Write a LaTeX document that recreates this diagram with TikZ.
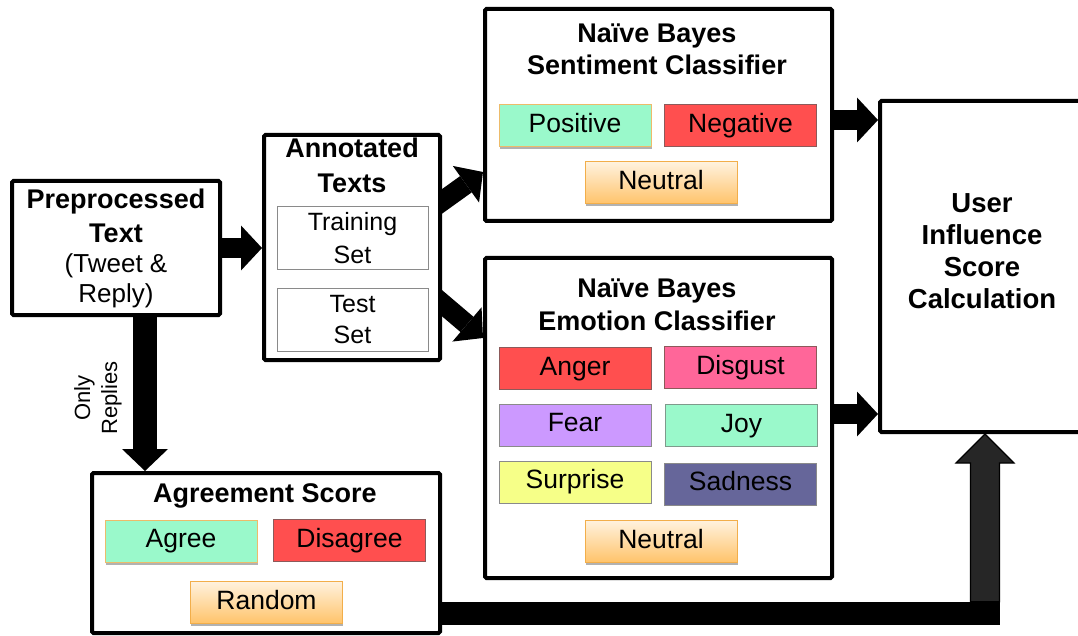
\documentclass[tikz,border=0pt]{standalone}
\usepackage{fontspec}
\setmainfont{Liberation Sans}
\usetikzlibrary{arrows.meta,calc,shadows,backgrounds}
\definecolor{mint}{HTML}{9AF9CB}
\definecolor{mintedge}{HTML}{EDBB6A}
\definecolor{mintgray}{HTML}{7F9A8C}
\definecolor{redf}{HTML}{FF4F4F}
\definecolor{rededge}{HTML}{8C5A5A}
\definecolor{pinkf}{HTML}{FF6699}
\definecolor{lilac}{HTML}{CC99FF}
\definecolor{yellowf}{HTML}{F6FF88}
\definecolor{slate}{HTML}{66669A}
\definecolor{neutop}{HTML}{FFF2DE}
\definecolor{neubot}{HTML}{FFC36A}
\definecolor{neuedge}{HTML}{F2AE4A}
\definecolor{boxgray}{HTML}{8A8A8A}
\definecolor{arrgray}{HTML}{262626}
\begin{document}
\begin{tikzpicture}[x=1pt,y=-1pt,
  bigbox/.style={draw=black, line width=4pt, fill=white, rounded corners=1.5pt, inner sep=0pt},
  setbox/.style={draw=boxgray, line width=1pt, fill=white, minimum width=151pt, inner sep=0pt, align=center, font=\fontsize{25}{33}\selectfont},
  cat/.style={line width=1pt, minimum width=152pt, minimum height=42pt, inner sep=0pt, text height=19pt, text depth=5.5pt, font=\fontsize{26.5}{30}\selectfont},
  shad/.style={drop shadow={shadow xshift=0.5pt, shadow yshift=-2.5pt, opacity=0.3, fill=black}},
  catmint/.style={cat, fill=mint, draw=mintedge, shad},
  catjoy/.style={cat, fill=mint, draw=mintgray},
  catred/.style={cat, fill=redf, draw=rededge},
  catpink/.style={cat, fill=pinkf, draw=rededge},
  catfear/.style={cat, fill=lilac, draw=boxgray},
  catsurp/.style={cat, fill=yellowf, draw=boxgray},
  catsad/.style={cat, fill=slate, draw=boxgray},
  catneu/.style={cat, top color=neutop, bottom color=neubot, draw=neuedge, shad},
  ttl/.style={anchor=base, inner sep=0pt, font=\fontsize{27}{32}\selectfont\bfseries},
  blockarr/.style={line width=20pt, -{Triangle[length=21pt,width=45pt,line width=0pt]}},
  blockarrv/.style={line width=24pt, -{Triangle[length=22pt,width=46pt,line width=0pt]}},
]
\useasboundingbox (0,0) rectangle (1078,636);

% main boxes
\node[bigbox, minimum width=208pt, minimum height=134pt] (pre) at (116,248) {};
\node[bigbox, minimum width=176pt, minimum height=225pt] (annot) at (352,247.5) {};
\node[bigbox, minimum width=347pt, minimum height=212pt] (sent) at (658.5,115) {};
\node[bigbox, minimum width=347pt, minimum height=320pt] (emo) at (658.5,418) {};
\node[bigbox, minimum width=348pt, minimum height=160pt] (agr) at (266,553) {};
\node[bigbox, minimum width=210pt, minimum height=331pt] (user) at (985,266.5) {};

% preprocessed text
\node[align=center, inner sep=0pt, font=\fontsize{26}{30}\selectfont] (pretxt) at (116,248)
  {{\fontsize{27}{30}\selectfont\bfseries Preprocessed}\\[4pt]{\fontsize{27}{30}\selectfont\bfseries Text}\\(Tweet \&\\Reply)};

% annotated texts
\node[ttl] (annt1) at (352,158) {Annotated};
\node[ttl] (annt2) at (352,193) {Texts};
\node[setbox, minimum height=62pt] (train) at (352.5,238) {Training\\Set};
\node[setbox, minimum height=63pt, font=\fontsize{25}{31}\selectfont] (test) at (352.5,319.5) {Test\\Set};

% sentiment classifier
\node[ttl] (st1) at (657,43) {Naïve Bayes};
\node[ttl] (st2) at (657,75) {Sentiment Classifier};
\node[catmint] (pos) at (575,126) {Positive};
\node[catred] (neg) at (740.5,126) {Negative};
\node[catneu] (sneu) at (661,183) {Neutral};

% emotion classifier
\node[ttl] (et1) at (657,297) {Naïve Bayes};
\node[ttl] (et2) at (657,330) {Emotion Classifier};
\node[catred] (anger) at (575,368.5) {Anger};
\node[catpink] (disg) at (740.5,367.5) {Disgust};
\node[catfear] (fear) at (575,425) {Fear};
\node[catjoy] (joy) at (741.5,425.5) {Joy};
\node[catsurp] (surp) at (575,482) {Surprise};
\node[catsad] (sad) at (740.5,484) {Sadness};
\node[catneu] (eneu) at (661,541.5) {Neutral};

% agreement score
\node[ttl] (at1) at (265,502) {Agreement Score};
\node[catmint] (agree) at (181,541) {Agree};
\node[catred] (disag) at (349.5,540.5) {Disagree};
\node[catneu] (rand) at (266.5,602.5) {Random};

% user influence
\node[align=center, inner sep=0pt, font=\fontsize{27.5}{32}\selectfont\bfseries] (usertxt) at (982,251)
  {User\\Influence\\Score\\Calculation};

% only replies label
\node[rotate=90, align=center, inner sep=0pt, font=\fontsize{22}{27}\selectfont] (only) at (98,398) {Only\\Replies};

% connectors
\begin{scope}[on background layer]
  \draw[blockarr] (pre.east) -- (pre.east -| annot.west);
  \draw[blockarr] ($(annot.east)+(-12,-37.5)$) -- ($(sent.west)+(0,57)$);
  \draw[blockarr] ($(annot.east)+(-12,45.5)$) -- ($(emo.west)+(0,-80)$);
  \coordinate (s1) at ($(sent.east)+(-5,5)$);
  \draw[blockarr] (s1) -- (s1 -| user.west);
  \coordinate (e1) at ($(emo.east)+(-5,-4)$);
  \draw[blockarr] (e1) -- (e1 -| user.west);
  \coordinate (pa) at ($(pre.south)+(29,-5)$);
  \draw[blockarrv] (pa) -- (pa |- agr.north);
  \coordinate (hb) at ($(agr.east)+(-8,60.5)$);
  \coordinate (corner) at (hb -| user.south);
  \draw[line width=23.5pt] (hb) -- ($(corner)+(14.5,0)$);
  \draw[fill=arrgray, draw=black, line width=1.2pt, line join=miter]
    ($(corner)+(-14.5,-11.75)$) -- ($(user.south)+(-14.5,29)$) -- ($(user.south)+(-29,29)$)
    -- (user.south) -- ($(user.south)+(29,29)$) -- ($(user.south)+(14.5,29)$)
    -- ($(corner)+(14.5,-11.75)$) -- cycle;
\end{scope}
\end{tikzpicture}
\end{document}
